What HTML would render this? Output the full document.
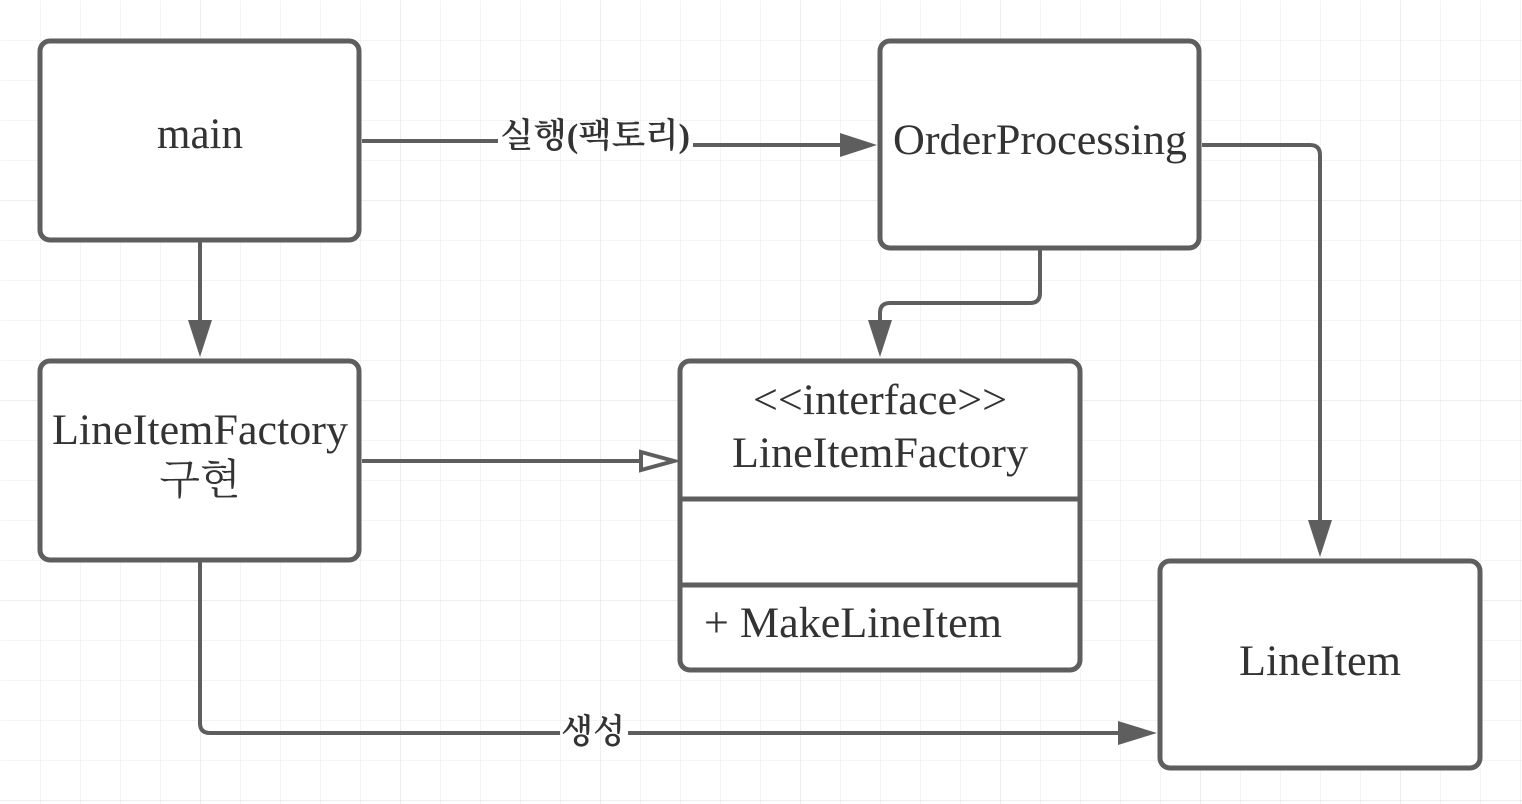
<!DOCTYPE html>
<html><head><meta charset="utf-8"><style>
html,body{margin:0;padding:0;background:#fff;}
svg{display:block;}
text{font-family:"Liberation Serif","Noto Serif CJK SC",serif;fill:#333;}
.k{font-family:"Liberation Serif","Noto Serif CJK SC",serif;font-weight:600;}
</style></head><body>
<svg width="1522" height="804" viewBox="0 0 1522 804" xmlns="http://www.w3.org/2000/svg">
<defs>
<pattern id="g" width="40" height="40" patternUnits="userSpaceOnUse">
<path d="M40 0V40M0 40H40" fill="none" stroke="#e8e8e8" stroke-width="1"/>
</pattern>
<pattern id="G" width="200" height="200" patternUnits="userSpaceOnUse">
<path d="M200 0V200M0 200H200" fill="none" stroke="#dcdcdc" stroke-width="1"/>
</pattern>
</defs>
<rect width="1522" height="804" fill="url(#g)" transform="translate(0.5,0.5)"/>
<rect width="1522" height="804" fill="url(#G)" transform="translate(0.5,0.5)"/>
<g fill="#fff" stroke="#5e5e5e" stroke-width="5">
<rect x="40" y="41" width="319" height="199" rx="10"/>
<rect x="880" y="41" width="319" height="207" rx="10"/>
<rect x="40" y="361" width="319" height="199" rx="10"/>
<rect x="680" y="361" width="400" height="309" rx="10"/>
<rect x="1160" y="561" width="320" height="207" rx="10"/>
<line x1="680" y1="499" x2="1080" y2="499"/>
<line x1="680" y1="585" x2="1080" y2="585"/>
</g>
<g fill="none" stroke="#5e5e5e" stroke-width="4">
<path d="M362 141H498"/>
<path d="M693 145H842"/>
<path d="M200 241V322"/>
<path d="M1040 250V293Q1040 303 1030 303H890Q880 303 880 313V322"/>
<path d="M1202 145H1310Q1320 145 1320 155V522"/>
<path d="M362 461H641"/>
<path d="M200 562V723Q200 733 210 733H560"/>
<path d="M628 733H1120"/>
</g>
<g fill="#5e5e5e">
<polygon points="840,133 877,145 840,157"/>
<polygon points="188,320 200,357 212,320"/>
<polygon points="868,320 880,357 892,320"/>
<polygon points="1308,520 1320,557 1332,520"/>
<polygon points="1118,721 1157,733 1118,745"/>
</g>
<polygon points="641,452 674,461 641,470" fill="#fff" stroke="#5e5e5e" stroke-width="4"/>
<g font-size="43" text-anchor="middle">
<text x="200" y="148">main</text>
<text x="1040" y="154" textLength="294" lengthAdjust="spacingAndGlyphs">OrderProcessing</text>
<text x="200" y="444" textLength="296" lengthAdjust="spacingAndGlyphs">LineItemFactory</text>
<text x="200" y="494" font-size="42">구현</text>
<text x="880" y="414" textLength="254" lengthAdjust="spacingAndGlyphs">&lt;&lt;interface&gt;&gt;</text>
<text x="880" y="467" textLength="296" lengthAdjust="spacingAndGlyphs">LineItemFactory</text>
<text x="1320" y="675" textLength="162" lengthAdjust="spacingAndGlyphs">LineItem</text>
<text x="704" y="637" text-anchor="start" textLength="298" lengthAdjust="spacingAndGlyphs">+ MakeLineItem</text>
</g>
<text class="k" x="595" y="147" font-size="34" text-anchor="middle" textLength="190" lengthAdjust="spacingAndGlyphs">실행(팩토리)</text>
<text class="k" x="593" y="743" font-size="34" text-anchor="middle" textLength="64" lengthAdjust="spacingAndGlyphs">생성</text>
</svg>
</body></html>
